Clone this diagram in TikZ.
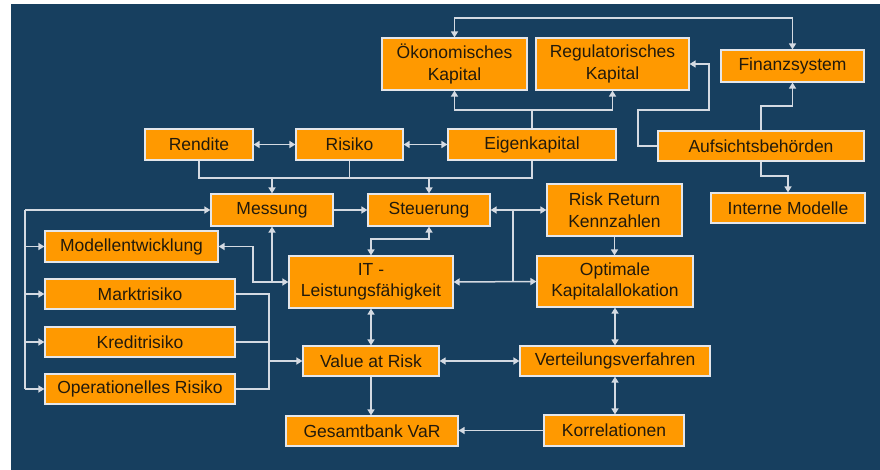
\documentclass[tikz,border=0pt]{standalone}
\usepackage{fontspec}
\setmainfont{Liberation Sans}
\usetikzlibrary{arrows.meta,calc}
\definecolor{bgblue}{HTML}{173F5F}
\definecolor{boxfill}{HTML}{FF9900}
\definecolor{boxline}{HTML}{E4E6EA}
\definecolor{wire}{HTML}{D4DAE2}
\definecolor{ink}{HTML}{221A0C}
\begin{document}
\begin{tikzpicture}[x=1pt,y=-1pt,
  box/.style={draw=boxline, fill=boxfill, line width=1.2pt, inner sep=0pt,
    align=center, text=ink, font=\fontsize{17.5}{21.5}\selectfont},
  bx/.style 2 args={box, minimum width=#1, minimum height=#2},
  link/.style={draw=wire, line width=1.5pt},
  tip/.tip={Triangle[length=6pt,width=7pt,fill=wire]},
  >=tip]
% canvas
\useasboundingbox (0,0) rectangle (880,470);
\fill[white] (0,0) rectangle (880,470);
\fill[bgblue] (11,4) rectangle (880,470);

% boxes
\node[bx={145pt}{52pt}] (oek) at (454.5,64) {Ökonomisches\\Kapital};
\node[bx={153pt}{52pt}] (reg) at (612.5,64) {Regulatorisches\\Kapital};
\node[bx={143pt}{32pt}] (fin) at (792.5,66) {Finanzsystem};
\node[bx={108pt}{31pt}] (ren) at (199,144.5) {Rendite};
\node[bx={107pt}{31pt}] (ris) at (349.5,144.5) {Risiko};
\node[bx={168pt}{31pt}] (eig) at (532,144.5) {Eigenkapital};
\node[bx={206pt}{30pt}] (auf) at (761,146) {Aufsichtsbehörden};
\node[bx={154pt}{30pt}] (int) at (788,208) {Interne Modelle};
\node[bx={122pt}{32pt}] (mes) at (272,210) {Messung};
\node[bx={122pt}{32pt}] (ste) at (429,210) {Steuerung};
\node[bx={135pt}{52pt}] (rrk) at (614.5,210) {Risk Return\\Kennzahlen};
\node[bx={173pt}{31pt}] (mod) at (131.5,246.5) {Modellentwicklung};
\node[bx={164pt}{52pt}] (it) at (371,282) {IT -\\Leistungsfähigkeit};
\node[bx={156pt}{51pt}] (opt) at (615,281.5) {Optimale\\Kapitalallokation};
\node[bx={190pt}{30pt}] (mar) at (140,294) {Marktrisiko};
\node[bx={190pt}{30pt}] (kre) at (140,342) {Kreditrisiko};
\node[bx={190pt}{30pt}] (ope) at (140,389) {Operationelles Risiko};
\node[bx={136pt}{30pt}] (var) at (371,361) {Value at Risk};
\node[bx={190pt}{30pt}] (ver) at (615,361) {Verteilungsverfahren};
\node[bx={172pt}{30pt}] (ges) at (372,431) {Gesamtbank VaR};
\node[bx={140pt}{31pt}] (kor) at (614,430.5) {Korrelationen};

% helper coordinates for bus lines
\coordinate (top) at (0,18);
\coordinate (capbus) at (0,110);
\coordinate (lbus) at (25,0);
\coordinate (rbus) at (269,0);
\coordinate (inbus) at (0,178);

% capital and supervision
\draw[link,<->] (oek.north) -- (oek.north |- top) -- (fin.north |- top) -- (fin.north);
\draw[link] (eig.north) -- (eig.north |- capbus);
\draw[link,->] (eig.north |- capbus) -| (oek.south);
\draw[link,->] (eig.north |- capbus) -| (reg.south);
\draw[link,->] (auf.west) -| (638,110) -- (709,110) |- (reg.east);
\draw[link,->] (auf.north) -- (auf.north |- 0,106) -| (fin.south);
\draw[link,->] (auf.south) -- (auf.south |- 0,176) -| (int.north);

% return / risk / capital
\draw[link,<->] (ren.east) -- (ris.west);
\draw[link,<->] (ris.east) -- (eig.west);
\draw[link] (ren.south) -- (ren.south |- inbus) -- (eig.south |- inbus) -- (eig.south);
\draw[link] (ris.south) -- (ris.south |- inbus);
\draw[link,->] (mes.north |- inbus) -- (mes.north);
\draw[link,->] (ste.north |- inbus) -- (ste.north);

% measurement and steering
\draw[link,->] (mes.east) -- (ste.west);
\draw[link,<->] (ste.east) -- (rrk.west);
\draw[link,<->] (it.east) -- (opt.west);
\coordinate (j1) at ($(ste.east)!0.4!(rrk.west)$);
\draw[link] (j1) -- (j1 |- it.east);
\draw[link,<->] (ste.south) -- (ste.south |- 0,239) -| (it.north);
\draw[link,<->] (mod.east) -| (253,282) -- (it.west);
\draw[link,->] (mes.south |- it.west) -- (mes.south);

% left feed bus
\draw[link] (lbus |- mes.west) -- (lbus |- ope.west);
\draw[link,->] (lbus |- mes.west) -- (mes.west);
\draw[link,->] (lbus |- mod.west) -- (mod.west);
\draw[link,->] (lbus |- mar.west) -- (mar.west);
\draw[link,->] (lbus |- kre.west) -- (kre.west);
\draw[link,->] (lbus |- ope.west) -- (ope.west);

% risk types into value at risk
\draw[link] (mar.east) -- (rbus |- mar.east) -- (rbus |- ope.east) -- (ope.east);
\draw[link] (kre.east) -- (rbus |- kre.east);
\draw[link,->] (rbus |- var.west) -- (var.west);

% lower chain
\draw[link,<->] (it.south) -- (var.north);
\draw[link,->] (var.south) -- (var.south |- ges.north);
\draw[link,<->] (var.east) -- (ver.west);
\draw[link,<->] (opt.south) -- (ver.north);
\draw[link,->] (rrk.south) -- (rrk.south |- opt.north);
\draw[link,<->] (ver.south) -- (ver.south |- kor.north);
\draw[link,->] (kor.west) -- (kor.west -| ges.east);
\end{tikzpicture}
\end{document}
